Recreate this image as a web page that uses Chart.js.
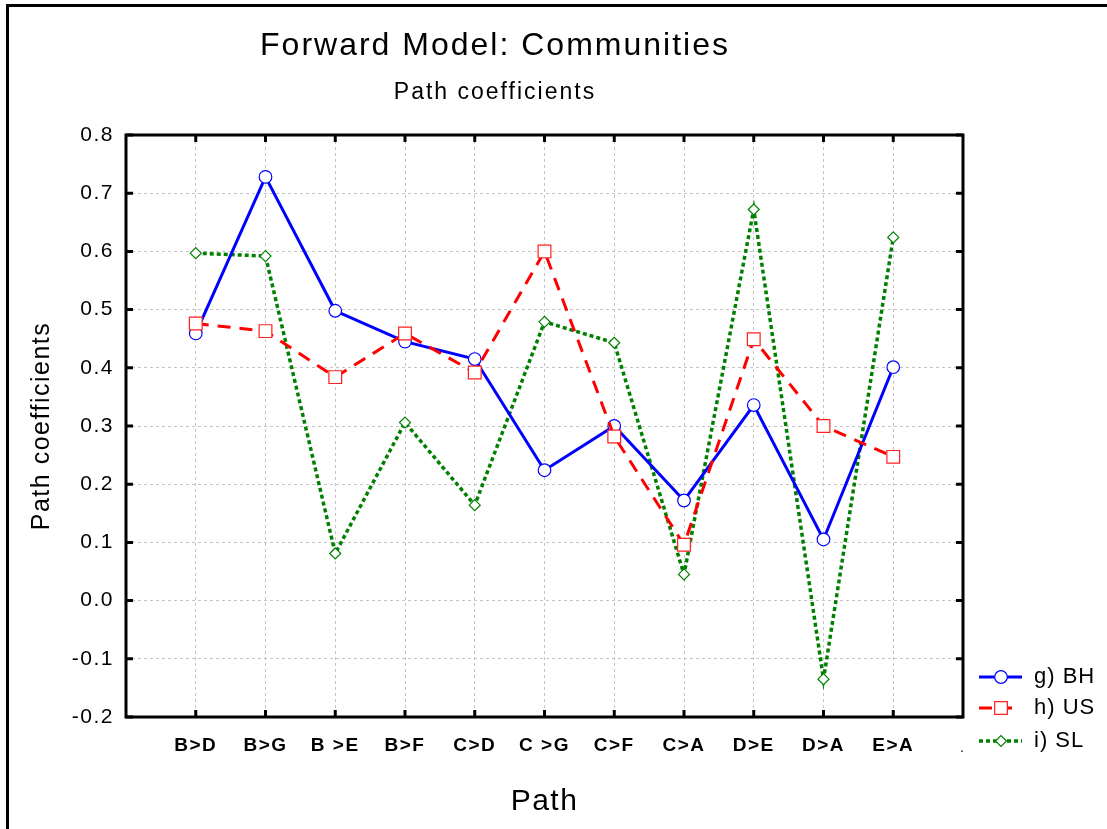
<!DOCTYPE html>
<html>
<head>
<meta charset="utf-8">
<script src="https://cdn.jsdelivr.net/npm/chart.js@4/dist/chart.umd.min.js"></script>
<style>
  html, body { margin: 0; padding: 0; background: #fff; }
</style>
</head>
<body>
<canvas id="grafico" width="1107" height="829"></canvas>
<script>
// Dados
const caminhos = ['B>D', 'B>G', 'B >E', 'B>F', 'C>D', 'C >G', 'C>F', 'C>A', 'D>E', 'D>A', 'E>A'];
const serieBH = [0.459, 0.728, 0.498, 0.445, 0.415, 0.224, 0.300, 0.172, 0.336, 0.105, 0.401];
const serieUS = [0.476, 0.463, 0.384, 0.459, 0.392, 0.600, 0.282, 0.096, 0.449, 0.300, 0.247];
const serieSL = [0.597, 0.592, 0.081, 0.306, 0.164, 0.479, 0.443, 0.045, 0.672, -0.135, 0.624];
const ticksY = [0.8, 0.7, 0.6, 0.5, 0.4, 0.3, 0.2, 0.1, 0.0, -0.1, -0.2];
const nomesSeries = ['g) BH', 'h) US', 'i) SL'];

const fonte = 'Arial, "Liberation Sans", sans-serif';

function pontos(serie) {
  return serie.map((v, i) => ({ x: i + 1, y: v }));
}

// Moldura, marcas internas, títulos e legenda
const moldura = {
  id: 'moldura',
  beforeDraw(chart) {
    const ctx = chart.ctx;
    ctx.save();
    ctx.fillStyle = '#fff';
    ctx.fillRect(0, 0, chart.width, chart.height);
    ctx.restore();
    // texto do Statistica é mais espaçado
    ctx.letterSpacing = '1.5px';
  },
  beforeDatasetsDraw(chart) {
    const { ctx, chartArea: a, scales: { x, y } } = chart;
    ctx.letterSpacing = '0px';
    ctx.save();
    ctx.strokeStyle = '#000';
    ctx.lineWidth = 3;
    ctx.strokeRect(a.left, a.top, a.right - a.left, a.bottom - a.top);
    ctx.beginPath();
    caminhos.forEach((_, i) => {
      const px = x.getPixelForValue(i + 1);
      ctx.moveTo(px, a.bottom); ctx.lineTo(px, a.bottom - 7);
      ctx.moveTo(px, a.top); ctx.lineTo(px, a.top + 7);
    });
    ticksY.forEach(v => {
      const py = y.getPixelForValue(v);
      ctx.moveTo(a.left, py); ctx.lineTo(a.left + 7, py);
      ctx.moveTo(a.right, py); ctx.lineTo(a.right - 7, py);
    });
    ctx.stroke();

    // borda externa da figura
    ctx.beginPath();
    ctx.moveTo(7.5, chart.height); ctx.lineTo(7.5, 5.5); ctx.lineTo(chart.width, 5.5);
    ctx.stroke();
    ctx.restore();
  },
  afterDraw(chart) {
    const ctx = chart.ctx;
    ctx.save();
    ctx.fillStyle = '#000';
    ctx.textAlign = 'center';
    ctx.textBaseline = 'middle';
    ctx.letterSpacing = '2px';
    ctx.font = '32px ' + fonte;
    ctx.fillText('Forward Model: Communities', 495, 46);
    ctx.font = '23px ' + fonte;
    ctx.fillText('Path coefficients', 495, 93);

    // legenda
    const ys = [677, 708, 741];
    chart.data.datasets.forEach((ds, i) => {
      const yy = ys[i];
      ctx.save();
      ctx.strokeStyle = ds.borderColor;
      ctx.lineWidth = ds.borderWidth;
      ctx.setLineDash(ds.borderDash || []);
      ctx.beginPath();
      ctx.moveTo(979, yy);
      ctx.lineTo(i === 1 ? 1012 : 1022, yy);
      ctx.stroke();
      ctx.setLineDash([]);
      ctx.fillStyle = ds.pointBackgroundColor;
      ctx.strokeStyle = ds.pointBorderColor;
      ctx.lineWidth = ds.pointBorderWidth;
      Chart.helpers.drawPoint(ctx, {
        pointStyle: ds.pointStyle, radius: ds.pointRadius,
        borderWidth: ds.pointBorderWidth, rotation: 0
      }, 1001, yy);
      ctx.restore();
      ctx.fillStyle = '#000';
      ctx.textAlign = 'left';
      ctx.letterSpacing = '1px';
      ctx.font = '22px ' + fonte;
      ctx.fillText(nomesSeries[i], 1034, yy);
    });
    ctx.letterSpacing = '0px';
    ctx.font = '14px ' + fonte;
    ctx.fillText('.', 960, 748);
    ctx.restore();
  }
};

new Chart(document.getElementById('grafico'), {
  type: 'line',
  data: {
    datasets: [
      {
        label: nomesSeries[0],
        data: pontos(serieBH),
        borderColor: '#0000ff',
        borderWidth: 3,
        pointStyle: 'circle',
        pointRadius: 6.3,
        pointBackgroundColor: '#ffffff',
        pointBorderColor: '#0000ff',
        pointBorderWidth: 1.2,
        order: 2
      },
      {
        label: nomesSeries[1],
        data: pontos(serieUS),
        borderColor: '#ff0000',
        borderWidth: 3,
        borderDash: [13, 9],
        pointStyle: 'rect',
        pointRadius: 9,
        pointBackgroundColor: '#ffffff',
        pointBorderColor: '#ff2020',
        pointBorderWidth: 1.2,
        order: 1
      },
      {
        label: nomesSeries[2],
        data: pontos(serieSL),
        borderColor: '#008000',
        borderWidth: 3.5,
        borderDash: [4, 3],
        pointStyle: 'rectRot',
        pointRadius: 5.5,
        pointBackgroundColor: '#ffffff',
        pointBorderColor: '#008000',
        pointBorderWidth: 1.2,
        order: 3
      }
    ]
  },
  options: {
    responsive: false,
    animation: false,
    layout: { padding: { left: 0, top: 135, right: 144, bottom: 0 } },
    elements: { line: { tension: 0 } },
    scales: {
      x: {
        type: 'linear',
        min: 0,
        max: caminhos.length + 1,
        afterBuildTicks: s => { s.ticks = caminhos.map((_, i) => ({ value: i + 1 })); },
        afterFit: s => { s.height = 112; },
        ticks: {
          callback: v => caminhos[v - 1] || '',
          color: '#000',
          font: { family: fonte, size: 19, weight: 'bold' },
          padding: 17,
          maxRotation: 0,
          autoSkip: false
        },
        grid: { color: '#c4c4c4', lineWidth: 1, drawTicks: false },
        border: { display: false, dash: [3, 3] },
        title: {
          display: true,
          text: 'Path',
          color: '#000',
          font: { family: fonte, size: 30 },
          padding: { top: 0, bottom: 9 }
        }
      },
      y: {
        min: -0.2,
        max: 0.8,
        afterBuildTicks: s => { s.ticks = ticksY.map(v => ({ value: v })); },
        afterFit: s => { s.width = 126; },
        ticks: {
          callback: v => v.toFixed(1),
          color: '#000',
          font: { family: fonte, size: 21 },
          padding: 12
        },
        grid: { color: '#c4c4c4', lineWidth: 1, drawTicks: false },
        border: { display: false, dash: [3, 3] },
        title: {
          display: true,
          text: 'Path coefficients',
          color: '#000',
          font: { family: fonte, size: 25 },
          padding: { top: 27, bottom: 0 }
        }
      }
    },
    plugins: {
      legend: { display: false },
      tooltip: { enabled: false }
    }
  },
  plugins: [moldura]
});
</script>
</body>
</html>
